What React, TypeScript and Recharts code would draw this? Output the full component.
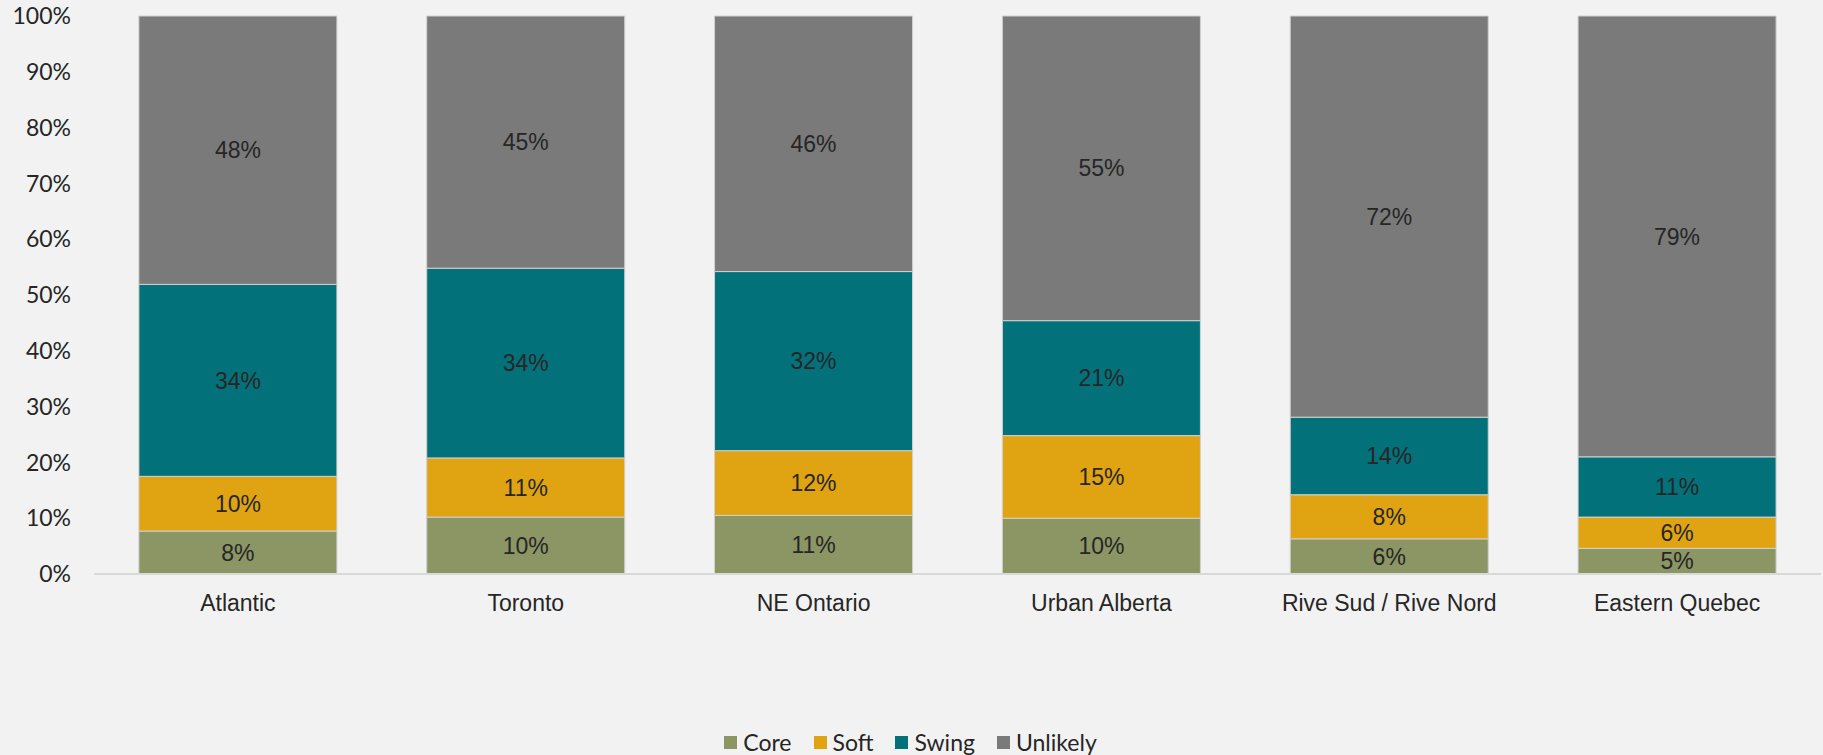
import { Bar, BarChart, LabelList, Legend, XAxis, YAxis } from "recharts";

const regions = [
  "Atlantic",
  "Toronto",
  "NE Ontario",
  "Urban Alberta",
  "Rive Sud / Rive Nord",
  "Eastern Quebec",
];
const core = [7.7, 10.2, 10.5, 10.0, 6.3, 4.6];
const soft = [9.8, 10.6, 11.6, 14.8, 7.9, 5.6];
const swing = [34.4, 34.0, 32.1, 20.6, 13.9, 10.8];
const unlikely = [48.1, 45.2, 45.8, 54.6, 71.9, 79.0];
const yTicks = [0, 10, 20, 30, 40, 50, 60, 70, 80, 90, 100];

const series = [
  { key: "Core", values: core, color: "#8c9564" },
  { key: "Soft", values: soft, color: "#e0a412" },
  { key: "Swing", values: swing, color: "#02717a" },
  { key: "Unlikely", values: unlikely, color: "#7a7a7a" },
];

const data = regions.map((name, i) => {
  const row: Record<string, string | number> = { name };
  series.forEach((s) => (row[s.key] = s.values[i]));
  return row;
});

const textColor = "#262626";
const arial = "'Liberation Sans', Arial, sans-serif";
const lato = "Lato, sans-serif";

function LegendContent() {
  return (
    <div
      style={{
        display: "flex",
        justifyContent: "center",
        alignItems: "center",
        height: 26,
        fontFamily: lato,
        fontSize: 23,
        color: textColor,
      }}
    >
      {series.map((s) => (
        <div
          key={s.key}
          style={{ display: "flex", alignItems: "center", margin: "0 11px" }}
        >
          <span
            style={{
              width: 13,
              height: 13,
              background: s.color,
              marginRight: 6,
              display: "inline-block",
            }}
          />
          <span>{s.key}</span>
        </div>
      ))}
    </div>
  );
}

export default function App() {
  return (
    <div
      style={{
        position: "absolute",
        top: 0,
        left: 0,
        width: 1823,
        height: 755,
        background: "#f2f2f2",
      }}
    >
      <BarChart
        width={1823}
        height={755}
        data={data}
        margin={{ top: 16, right: 2, left: 0, bottom: 0 }}
        barCategoryGap="15.6%"
      >
        <XAxis
          dataKey="name"
          height={155}
          tickLine={false}
          tickSize={0}
          tickMargin={21}
          axisLine={{ stroke: "#d9d9d9", strokeWidth: 2 }}
          tick={{ fill: textColor, fontSize: 23, fontFamily: arial }}
          interval={0}
        />
        <YAxis
          width={94}
          domain={[0, 100]}
          ticks={yTicks}
          tickFormatter={(v: number) => `${v}%`}
          axisLine={false}
          tickLine={false}
          tickSize={0}
          tickMargin={23}
          tick={{ fill: textColor, fontSize: 23, fontFamily: lato }}
        />
        <Legend verticalAlign="bottom" height={26} content={<LegendContent />} />
        {series.map((s) => (
          <Bar
            key={s.key}
            dataKey={s.key}
            stackId="a"
            fill={s.color}
            stroke="#d0d0d0"
            strokeWidth={1}
            isAnimationActive={false}
          >
            <LabelList
              dataKey={s.key}
              position="center"
              formatter={(v: number) => `${Math.round(v)}%`}
              fill={textColor}
              fontSize={23}
              fontFamily={arial}
            />
          </Bar>
        ))}
      </BarChart>
    </div>
  );
}
